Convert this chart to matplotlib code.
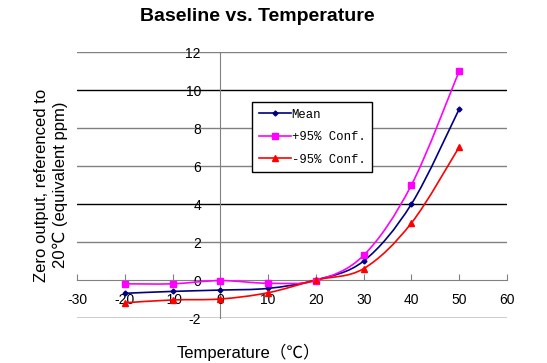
import matplotlib
matplotlib.use("Agg")
import matplotlib.pyplot as plt
import numpy as np
from matplotlib.path import Path
from matplotlib.patches import PathPatch
from matplotlib.lines import Line2D

plt.rcParams["axes.unicode_minus"] = False

temps = [-20, -10, 0, 10, 20, 30, 40, 50]
mean = [-0.7, -0.6, -0.53, -0.44, 0.0, 1.0, 4.0, 9.0]
upper = [-0.2, -0.2, -0.03, -0.17, -0.03, 1.3, 5.0, 11.0]
lower = [-1.2, -1.05, -1.0, -0.67, 0.0, 0.6, 3.0, 7.0]

names = ["Mean", "+95% Conf.", "-95% Conf."]
colors = ["#000080", "#FF00FF", "#FF0000"]
markers = ["D", "s", "^"]
msizes = [2.5, 4.5, 4]

xticks = [-30, -20, -10, 0, 10, 20, 30, 40, 50, 60]
yticks = [-2, 0, 2, 4, 6, 8, 10, 12]


# smoothed line like the spreadsheet one (catmull-rom turned into bezier segments)
def smooth_path(x, y):
    p = np.column_stack([x, y]).astype(float)
    n = len(p)
    verts = [p[0]]
    codes = [Path.MOVETO]
    for i in range(n - 1):
        p0 = p[i - 1] if i > 0 else p[i]
        p3 = p[i + 2] if i + 2 < n else p[i + 1]
        c1 = p[i] + (p[i + 1] - p0) / 6.0
        c2 = p[i + 1] - (p3 - p[i]) / 6.0
        verts += [c1, c2, p[i + 1]]
        codes += [Path.CURVE4] * 3
    return Path(verts, codes)


fig = plt.figure(figsize=(5.47, 3.63), dpi=100)
ax = fig.add_axes([77 / 547, 1 - 318 / 363, 430 / 547, 266 / 363])
ax.set_xlim(-30, 60)
ax.set_ylim(-2, 12)

# grid lines, some come out darker in the original
for v in yticks:
    if v == 0:
        continue
    c = "black" if v in (10, 4, -2) else "#808080"
    ax.axhline(v, color=c, lw=1.0, zorder=1)

for s in ["top", "right"]:
    ax.spines[s].set_visible(False)
ax.spines["left"].set_position(("data", 0))
ax.spines["bottom"].set_position(("data", 0))
ax.spines["left"].set_color("#808080")
ax.spines["bottom"].set_color("#808080")
ax.spines["left"].set_zorder(1)
ax.spines["bottom"].set_zorder(1)

ax.set_xticks(xticks)
ax.set_yticks(yticks)
ax.tick_params(axis="x", length=4, color="#808080", direction="in", labelsize=10, pad=9)
ax.tick_params(axis="y", length=0, labelsize=10, pad=14)
for lab in ax.get_xticklabels() + ax.get_yticklabels():
    lab.set_family("Liberation Sans")

series = [mean, upper, lower]
handles = []
for vals, c, m, ms, nm in zip(series, colors, markers, msizes, names):
    ax.add_patch(PathPatch(smooth_path(temps, vals), fill=False, edgecolor=c, lw=1.2, zorder=3))
    ax.plot(temps, vals, ls="none", marker=m, color=c, ms=ms, zorder=4)
    handles.append(Line2D([], [], color=c, lw=1.2, marker=m, ms=ms))

leg = ax.legend(handles, names, loc="upper left", bbox_to_anchor=(0.407, 0.812),
                frameon=True, fancybox=False, framealpha=1, edgecolor="black",
                prop={"family": "Liberation Mono", "size": 8.8},
                handlelength=2.6, handletextpad=0.1, labelspacing=0.85,
                borderpad=0.55, borderaxespad=0)
leg.get_frame().set_linewidth(1.0)
leg.set_zorder(5)

fig.text(0.47, 0.955, "Baseline vs. Temperature", ha="center", va="center",
         fontsize=14, fontweight="bold", family=["Liberation Sans"])
fig.text(0.093, 0.49, "Zero output, referenced to\n20℃ (equivalent ppm)", ha="center", va="center",
         rotation=90, fontsize=12, family=["Liberation Sans", "DejaVu Sans"], linespacing=1.35)
fig.text(0.455, 0.03, "Temperature（℃）", ha="center", va="center",
         fontsize=12, family=["Liberation Sans", "Noto Sans CJK SC"])

fig.savefig("out.png", dpi=100)
